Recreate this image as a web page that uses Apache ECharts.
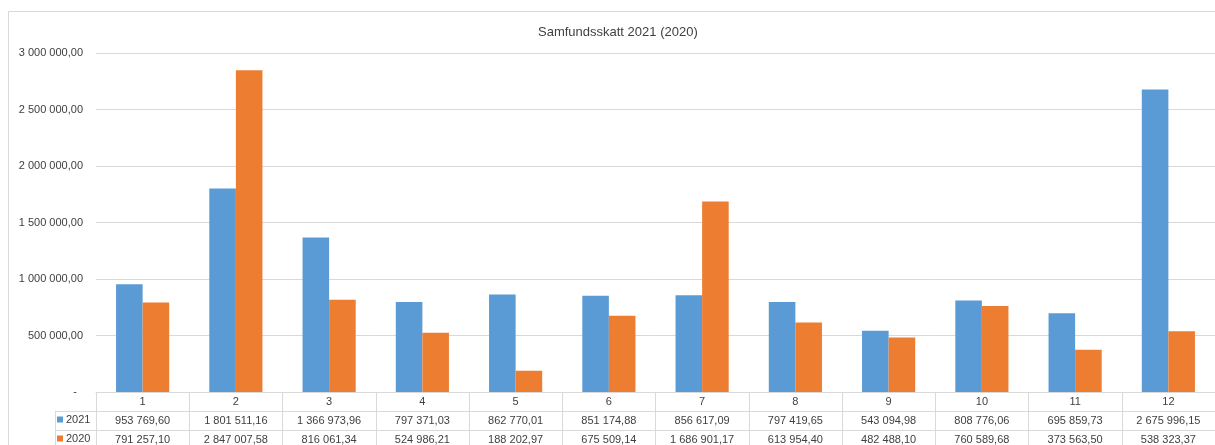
<!DOCTYPE html>
<html>
<head>
<meta charset="utf-8">
<script src="https://cdn.jsdelivr.net/npm/echarts@6/dist/echarts.min.js"></script>
<style>
html,body{margin:0;padding:0;background:#fff;}
#c{width:1215px;height:445px;}
</style>
</head>
<body>
<div id="c"></div>
<script>
var titleText = 'Samfundsskatt 2021 (2020)';
var categories = ['1','2','3','4','5','6','7','8','9','10','11','12'];
var seriesNames = ['2021','2020'];
var values2021 = [953769.60, 1801511.16, 1366973.96, 797371.03, 862770.01, 851174.88, 856617.09, 797419.65, 543094.98, 808776.06, 695859.73, 2675996.15];
var values2020 = [791257.10, 2847007.58, 816061.34, 524986.21, 188202.97, 675509.14, 1686901.17, 613954.40, 482488.10, 760589.68, 373563.50, 538323.37];

function fmt(v){
  var s = v.toFixed(2).split('.');
  var ip = s[0].replace(/\B(?=(\d{3})+(?!\d))/g, ' ');
  return ip + ',' + s[1];
}
var FONT = 'Liberation Sans';
var TXT = '#404040';
var LINE = '#d9d9d9';
var legendText = {fontFamily: FONT, fontSize: 11, color: TXT, padding: [0,0,0,-2]};

var chart = echarts.init(document.getElementById('c'));
chart.setOption({
  animation: false,
  textStyle: {fontFamily: FONT},
  title: {
    text: titleText, left: 533, top: 21,
    textStyle: {fontFamily: FONT, fontSize: 13, fontWeight: 'normal', color: TXT}
  },
  legend: [
    {data: [seriesNames[0]], left: 57, top: 414, padding: 0,
     icon: 'rect', itemWidth: 6, itemHeight: 6, textStyle: legendText},
    {data: [seriesNames[1]], left: 57, top: 433, padding: 0,
     icon: 'rect', itemWidth: 6, itemHeight: 6, textStyle: legendText}
  ],
  grid: {left: 96, right: -2, top: 53, bottom: 53, containLabel: false},
  xAxis: [
    {
      type: 'category', data: categories, position: 'bottom',
      axisLine: {show: true, lineStyle: {color: LINE}},
      axisTick: {show: true, length: 19, lineStyle: {color: LINE}},
      axisLabel: {interval: 0, margin: 4, fontSize: 11, color: TXT, fontFamily: FONT}
    },
    {
      type: 'category', data: categories, position: 'bottom', offset: 19,
      axisLine: {show: true, lineStyle: {color: LINE}},
      axisTick: {show: true, length: 19, lineStyle: {color: LINE}},
      axisLabel: {interval: 0, margin: 4, fontSize: 11, color: TXT, fontFamily: FONT,
        formatter: function(v, i){ return fmt(values2021[i]); }}
    },
    {
      type: 'category', data: categories, position: 'bottom', offset: 38,
      axisLine: {show: true, lineStyle: {color: LINE}},
      axisTick: {show: true, length: 20, lineStyle: {color: LINE}},
      axisLabel: {interval: 0, margin: 4, fontSize: 11, color: TXT, fontFamily: FONT,
        formatter: function(v, i){ return fmt(values2020[i]); }}
    }
  ],
  yAxis: {
    type: 'value', min: 0, max: 3000000, interval: 500000,
    axisLine: {show: false}, axisTick: {show: false},
    splitLine: {lineStyle: {color: LINE}},
    axisLabel: {fontSize: 11, color: TXT, fontFamily: FONT, margin: 13,
      formatter: function(v){ return v === 0 ? '-  ' : fmt(v); }}
  },
  graphic: [
    {type: 'rect', shape: {x: 8.5, y: 11.5, width: 1220, height: 440}, style: {fill: 'none', stroke: LINE, lineWidth: 1}, silent: true},
    {type: 'line', shape: {x1: 55, y1: 411.5, x2: 96, y2: 411.5}, style: {stroke: LINE, lineWidth: 1}, silent: true},
    {type: 'line', shape: {x1: 55, y1: 430.5, x2: 96, y2: 430.5}, style: {stroke: LINE, lineWidth: 1}, silent: true},
    {type: 'line', shape: {x1: 55.5, y1: 411, x2: 55.5, y2: 445}, style: {stroke: LINE, lineWidth: 1}, silent: true}
  ],
  series: [
    {name: seriesNames[0], type: 'bar', data: values2021, itemStyle: {color: '#5b9bd5'}, barGap: '0%', barCategoryGap: '43%'},
    {name: seriesNames[1], type: 'bar', data: values2020, itemStyle: {color: '#ed7d31'}, barGap: '0%', barCategoryGap: '43%'}
  ]
});
</script>
</body>
</html>
